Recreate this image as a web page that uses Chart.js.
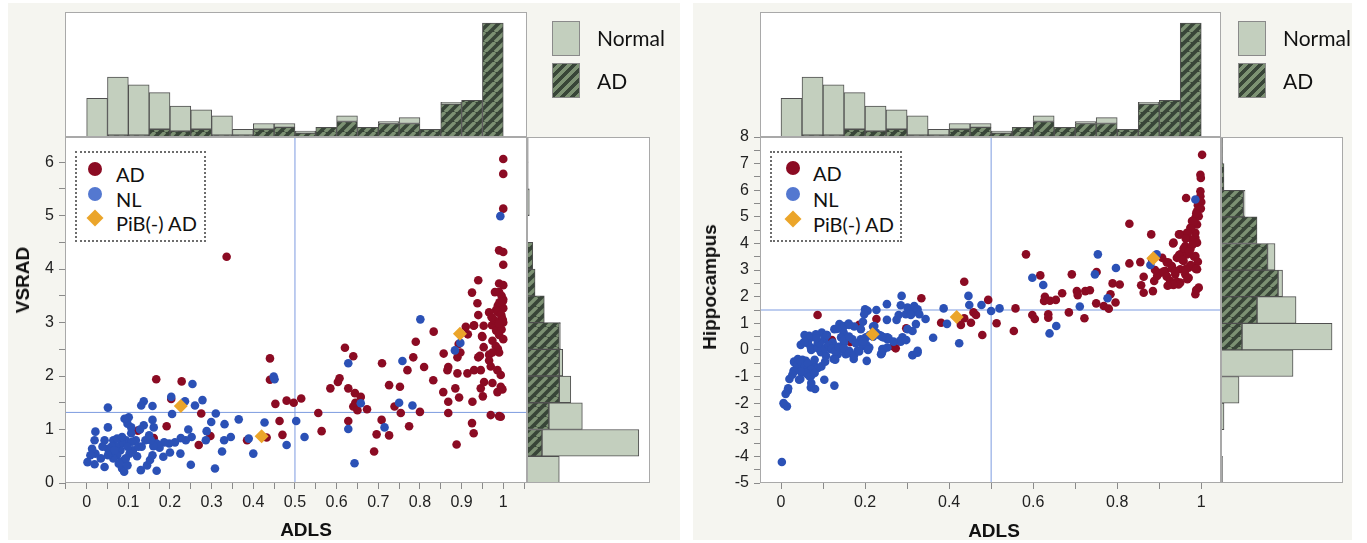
<!DOCTYPE html>
<html><head><meta charset="utf-8"><title>ADLS vs VSRAD and Hippocampus</title>
<script src="https://cdn.jsdelivr.net/npm/chart.js@4.4.1/dist/chart.umd.min.js"></script>
<style>
html,body{margin:0;padding:0;background:#fff}
#root{position:relative;width:1367px;height:543px;overflow:hidden;background:#fff;font-family:'Liberation Sans',Arial,sans-serif}
.bg{position:absolute;background:#f5f5f0}
canvas{position:absolute}
.ttl{position:absolute;font-weight:bold;font-size:19px;color:#111;white-space:nowrap;transform:translate(-50%,-50%)}
.ttl.rot{transform:translate(-50%,-50%) rotate(-90deg)}
.lgbox{position:absolute;box-sizing:border-box;border:2px dotted #6d6d6d;background:#fff}
.dot{position:absolute;width:14px;height:14px;border-radius:50%;transform:translate(-50%,-50%)}
.dia{position:absolute;width:12px;height:12px;background:#eba52a;transform:translate(-50%,-50%) rotate(45deg)}
.lt{position:absolute;font-family:Lato,'Open Sans',sans-serif;font-size:20px;color:#111;transform:translateY(-50%);white-space:nowrap}
.hb{position:absolute;box-sizing:border-box;width:28px;height:35px;border:1px solid #8a8a8a}
.hn{background:#c3cfbe}
.ha{background:repeating-linear-gradient(135deg,#384538 0 3.5px,#7c9173 3.5px 7px)}
.ht{position:absolute;font-family:Lato,'Open Sans',sans-serif;font-size:21px;color:#111;transform:translateY(-50%);white-space:nowrap}
</style></head>
<body><div id="root">
<div class="bg" style="left:8px;top:3px;width:672px;height:537px"></div>
<div class="bg" style="left:693px;top:3px;width:659px;height:537px"></div>

<canvas id="s1" width="520" height="418" style="left:8px;top:125px"></canvas>
<canvas id="t1" width="462" height="125" style="left:65px;top:12px"></canvas>
<canvas id="r1" width="123" height="346" style="left:527px;top:137px"></canvas>

<canvas id="s2" width="529" height="418" style="left:693px;top:125px"></canvas>
<canvas id="t2" width="461" height="125" style="left:760px;top:12px"></canvas>
<canvas id="r2" width="122" height="346" style="left:1221px;top:137px"></canvas>

<div class="ttl rot" style="left:23px;top:280px">VSRAD</div>
<div class="ttl" style="left:306px;top:530px">ADLS</div>
<div class="ttl rot" style="left:710px;top:287px">Hippocampus</div>
<div class="ttl" style="left:994px;top:531px">ADLS</div>

<div class="lgbox" style="left:75px;top:151px;width:131px;height:91px"></div>
<div class="dot" style="left:95px;top:169px;background:#8b0b23"></div>
<div class="dot" style="left:95px;top:194px;background:#5478d0"></div>
<div class="dia" style="left:95px;top:218px"></div>
<div class="lt" style="left:116px;top:174px">AD</div>
<div class="lt" style="left:116px;top:199px">NL</div>
<div class="lt" style="left:116px;top:223px">PiB(-) AD</div>

<div class="lgbox" style="left:770px;top:151px;width:132px;height:91px"></div>
<div class="dot" style="left:793px;top:168px;background:#8b0b23"></div>
<div class="dot" style="left:793px;top:194px;background:#5478d0"></div>
<div class="dia" style="left:793px;top:219px"></div>
<div class="lt" style="left:813px;top:173px">AD</div>
<div class="lt" style="left:813px;top:199px">NL</div>
<div class="lt" style="left:813px;top:224px">PiB(-) AD</div>

<div class="hb hn" style="left:552px;top:21px"></div>
<div class="hb ha" style="left:552px;top:63px"></div>
<div class="ht" style="left:597px;top:37px">Normal</div>
<div class="ht" style="left:597px;top:80px">AD</div>

<div class="hb hn" style="left:1238px;top:21px"></div>
<div class="hb ha" style="left:1238px;top:63px"></div>
<div class="ht" style="left:1283px;top:37px">Normal</div>
<div class="ht" style="left:1283px;top:80px">AD</div>
</div>
<script>
// ---------------- DATA ----------------
// Panel 1: ADLS vs VSRAD  ([ADLS, VSRAD])
const p1_AD = [
[1.0,6.06],[1.0,5.78],[1.0,5.13],[0.336,4.23],[0.99,4.35],[1.0,4.32],[1.0,4.08],[0.94,3.79],[0.925,3.56],[0.938,3.36],
[0.99,3.73],[1.0,3.7],[0.99,3.57],[0.996,3.5],[0.98,3.57],[1.0,3.43],[0.987,3.32],[1.0,3.27],[0.983,3.24],[0.966,3.19],
[0.94,3.14],[0.996,3.11],[0.987,3.0],[1.0,3.0],[0.973,2.95],[0.953,2.94],[0.93,2.95],[0.91,2.92],[0.983,2.85],[0.996,2.87],
[0.99,2.77],[0.833,2.83],[0.915,2.78],[0.95,2.73],[0.974,2.66],[1.0,2.69],[0.79,2.64],[0.893,2.6],[0.62,2.53],[0.64,2.37],
[0.953,2.54],[0.987,2.51],[0.857,2.42],[0.897,2.44],[0.94,2.35],[0.966,2.4],[0.784,2.35],[0.44,2.33],
[0.929,2.94],[0.949,2.75],[0.982,2.56],[0.99,2.44],[0.974,2.44],[0.89,2.35],[0.944,2.38],[0.991,3.38],[0.999,3.4],[0.986,3.2],
[0.995,3.15],[0.999,3.05],[0.978,3.05],[0.99,2.98],[0.972,3.1],
[0.81,2.17],[0.868,2.17],[0.866,2.11],[0.89,2.05],[0.914,2.05],[0.93,2.11],[0.946,2.11],[0.966,2.29],[0.97,2.18],[0.986,2.11],
[0.994,2.02],[0.832,1.92],[0.946,1.77],[0.954,1.89],[0.974,1.87],[0.994,1.8],[0.998,1.75],[0.986,1.7],[0.856,1.7],[0.868,1.52],
[0.885,1.77],[0.894,1.6],[0.926,1.52],[0.951,1.62],[0.8,1.33],[0.868,1.31],[0.99,1.25],[0.994,1.24],[0.925,1.12],[0.929,0.93],
[0.888,0.72],[0.97,1.27],
[0.709,2.24],[0.77,2.11],[0.603,1.89],[0.607,1.96],[0.585,1.77],[0.628,1.77],[0.644,1.68],[0.658,1.61],[0.726,1.83],[0.752,1.8],
[0.44,1.93],[0.167,1.94],[0.228,1.9],[0.203,1.57],[0.453,1.48],[0.48,1.54],[0.497,1.5],[0.515,1.58],[0.556,1.31],[0.64,1.43],
[0.645,1.5],[0.673,1.38],[0.65,1.36],[0.739,1.43],[0.754,1.31],[0.628,1.16],[0.708,1.18],[0.774,1.06],[0.696,0.91],[0.726,0.89],
[0.564,0.97],[0.463,1.16],[0.47,0.9],[0.432,0.85],[0.69,0.59],[0.297,0.88],[0.275,1.3],[0.269,0.71],[0.192,1.06],[0.123,0.98],
[0.09,0.79],[0.161,0.84],[0.385,0.8]
];
const p1_NL = [
[0.993,4.99],[0.801,3.06],[0.897,2.62],[0.884,2.48],[0.758,2.28],[0.628,2.24],[0.449,1.99],[0.451,1.94],[0.254,1.85],[0.203,1.61],
[0.236,1.53],[0.278,1.55],[0.26,1.45],[0.137,1.53],[0.131,1.45],[0.158,1.44],[0.051,1.41],[0.205,1.29],[0.31,1.3],[0.365,1.19],
[0.658,1.49],[0.75,1.5],[0.782,1.45],[0.503,1.16],[0.427,1.13],[0.628,1.01],[0.715,1.04],[0.523,0.86],[0.48,0.71],[0.4,0.55],
[0.389,0.83],[0.643,0.37],[0.308,0.27],[0.25,0.34],[0.325,0.59],[0.33,0.8],[0.346,0.86],[0.331,1.1],[0.299,1.14],[0.288,0.97],
[0.286,0.8],[0.252,0.86],[0.244,1.0],[0.238,0.8],[0.226,0.84],[0.225,0.55],[0.212,0.76],[0.198,0.74],[0.2,0.57],[0.186,0.76],
[0.175,0.66],[0.168,0.74],[0.184,0.49],[0.168,0.23],[0.13,0.24],[0.145,0.33],[0.152,0.43],[0.158,0.52],[0.16,0.69],[0.154,0.8],
[0.141,0.8],[0.132,0.68],[0.118,0.8],[0.111,0.61],[0.121,0.5],[0.158,1.18],[0.161,1.04],[0.15,0.89],[0.137,1.08],[0.128,1.0],
[0.107,0.93],[0.098,1.11],[0.101,1.23],[0.091,1.2],[0.107,1.04],[0.094,0.8],[0.085,0.74],[0.081,0.61],[0.073,0.52],[0.09,0.43],
[0.085,0.27],[0.09,0.21],[0.077,0.36],[0.064,0.46],[0.056,0.55],[0.051,0.64],[0.051,1.04],[0.043,0.8],[0.038,0.68],[0.043,0.3],
[0.034,0.46],[0.021,0.55],[0.021,0.96],[0.019,0.8],[0.013,0.64],[0.009,0.52],[0.002,0.39],[0.019,0.35],[0.064,0.8],[0.07,0.68],
[0.06,0.68],[0.073,0.83],[0.085,0.86],[0.109,0.77],[0.124,0.68],[0.098,0.68],[0.103,0.55],[0.067,0.61],[0.051,0.52],[0.081,0.39],
[0.098,0.33],[0.094,0.46]
];
const p1_PiB = [[0.226,1.44],[0.42,0.875],[0.896,2.79]];
const p1_cut = [0.5, 1.32];            // ADLS cut, VSRAD cut
const p1_xRange = [-0.052, 1.057];
const p1_yRange = [0, 6.47];
const p1_xTicks = [-0.05,0,0.05,0.1,0.15,0.2,0.25,0.3,0.35,0.4,0.45,0.5,0.55,0.6,0.65,0.7,0.75,0.8,0.85,0.9,0.95,1,1.05];
const p1_yTicks = [0,0.5,1,1.5,2,2.5,3,3.5,4,4.5,5,5.5,6];

// Panel 2: ADLS vs Hippocampus ([ADLS, Hippocampus])
const p2_AD = [
[1.002,7.33],[0.998,6.58],[0.999,6.46],[0.998,5.96],[0.964,5.71],[0.998,5.77],[0.994,5.52],[0.99,5.21],[0.986,4.96],[0.994,5.02],
[0.978,4.84],[0.99,4.71],[0.974,4.59],[0.986,4.4],[0.966,4.4],[0.986,4.21],[0.95,4.34],[0.978,4.15],[0.99,4.03],[0.962,3.9],
[0.974,3.78],[0.934,4.03],[0.95,3.59],[0.966,3.59],[0.986,3.53],[0.942,3.46],[0.958,3.34],[0.922,3.28],[0.93,3.15],[0.986,3.09],
[0.97,3.09],[0.95,3.03],[0.914,2.96],[0.938,2.84],[0.962,2.84],[0.918,2.78],[0.926,2.59],[0.942,2.53],[0.97,2.71],[0.95,2.53],
[0.934,2.52],[0.99,3.03],[0.994,2.34],[0.986,2.09],[0.903,2.9],[0.907,3.46],[0.881,4.34],[0.829,4.74],[0.883,3.4],[0.855,3.3],
[0.829,3.25],[0.863,2.75],[0.857,2.43],[0.888,2.59],[0.895,2.78],[0.885,2.21],[0.863,2.15],[0.789,2.5],[0.806,2.46],[0.751,2.93],
[0.784,2.09],[0.75,1.75],[0.768,1.65],[0.78,1.55],[0.796,1.78],[0.724,2.21],[0.735,2.24],
[1.0,5.56],[0.992,5.44],[0.999,5.31],[0.988,5.13],[0.981,4.81],[0.976,4.56],[0.968,4.38],[0.947,4.34],[0.963,4.19],[0.933,4.0],
[0.979,3.94],[0.958,3.81],[0.971,3.71],[0.947,3.56],[0.983,3.5],[0.955,3.38],[0.992,3.31],[0.918,3.29],[0.975,3.19],[0.93,3.06],
[0.963,3.04],[0.987,3.04],[0.89,3.0],[0.91,2.94],[0.938,2.96],[0.918,2.75],[0.967,2.66],[0.942,2.56],[0.926,2.46],[0.946,2.46],
[0.934,2.44],[0.92,2.41],[0.988,2.25],
[0.583,3.59],[0.617,2.8],[0.692,2.84],[0.669,2.13],[0.628,2.0],[0.626,1.84],[0.64,1.85],[0.654,1.88],[0.704,2.21],[0.706,2.06],
[0.558,1.56],[0.493,1.88],[0.436,2.56],[0.334,1.94],[0.227,1.16],[0.087,1.31],[0.186,0.94],[0.298,0.81],[0.381,1.02],[0.436,1.19],
[0.428,0.94],[0.452,1.02],[0.458,1.41],[0.464,1.31],[0.479,0.56],[0.513,1.0],[0.554,0.71],[0.598,1.31],[0.604,1.16],[0.636,1.34],
[0.636,1.21],[0.685,1.41],[0.722,1.19],[0.121,0.37],[0.165,0.3],[0.268,0.13],[0.273,0.06]
];
const p2_NL = [
[0.030,-0.78],[0.038,-0.66],[0.046,-0.47],[0.051,-0.37],[0.032,-0.47],[0.040,-0.34],[0.048,-0.72],[0.055,-0.84],[0.063,-0.91],[0.071,-0.99],
[0.046,-1.09],[0.063,-0.59],[0.071,-0.72],[0.079,-0.59],[0.059,-0.41],[0.054,0.28],[0.067,0.53],[0.083,0.59],[0.097,0.65],[0.071,0.09],
[0.087,0.22],[0.103,0.40],[0.111,0.15],[0.119,0.03],[0.095,-0.09],[0.107,-0.22],[0.135,-0.16],[0.143,0.03],[0.154,-0.16],[0.162,-0.03],
[0.127,0.78],[0.139,0.97],[0.15,0.90],[0.161,0.99],[0.149,0.65],[0.143,0.47],[0.123,0.28],[0.15,0.28],[0.170,0.40],[0.182,-0.03],
[0.194,0.15],[0.19,0.78],[0.19,0.40],[0.202,0.47],[0.210,0.09],[0.222,0.90],[0.226,0.65],[0.238,0.53],[0.253,0.40],[0.241,0.03],
[0.253,0.09],[0.238,-0.16],[0.285,1.68],[0.301,1.59],[0.313,1.40],[0.297,1.34],[0.317,1.65],[0.325,1.53],[0.321,0.97],[0.301,0.78],
[0.289,0.47],[0.283,0.34],[0.253,0.47],[0.244,0.03],[0.325,-0.03],[0.313,-0.20],
[0.002,-4.21],[0.006,-2.0],[0.014,-2.12],[0.016,-1.53],[0.017,-1.44],[0.02,-1.09],[0.071,-1.41],[0.081,-1.47],[0.103,-1.12],[0.127,-1.34],
[0.125,-0.34],[0.173,-0.34],[0.204,-0.41],[0.2,1.53],[0.206,1.47],[0.198,1.34],[0.252,1.72],[0.252,1.13],[0.275,1.13],[0.287,2.03],
[0.056,0.56],[0.068,0.44],[0.084,0.5],[0.109,0.56],[0.047,0.19],[0.064,0.25],[0.072,0.0],[0.088,0.06],[0.092,0.25],[0.105,0.06],
[0.113,0.19],[0.121,0.06],[0.129,-0.06],[0.137,0.12],[0.15,0.06],[0.162,-0.12],[0.174,-0.19],[0.186,-0.06],[0.203,0.19],[0.207,0.0],
[0.219,0.5],[0.234,0.56],[0.244,0.47],[0.256,0.44],[0.285,0.31],[0.298,0.37],[0.24,-0.12],[0.313,-0.19],[0.325,-0.1],[0.031,-0.44],
[0.039,-0.56],[0.047,-0.44],[0.056,-0.62],[0.064,-0.5],[0.08,-0.37],[0.088,-0.68],[0.072,-0.75],[0.06,-0.87],[0.047,-0.81],[0.031,-0.81],
[0.027,-0.93],[0.043,-1.12],[0.068,-1.0],[0.08,-0.87],[0.096,-0.62],[0.105,-0.44],[0.129,-0.37],[0.072,-1.24],[0.008,-2.05],[0.011,-1.65],
[0.15,0.37],[0.162,0.5],[0.178,0.25],[0.195,0.31],
[0.986,5.65],[0.754,3.59],[0.894,3.59],[0.879,3.19],[0.797,3.08],[0.747,2.84],[0.598,2.71],[0.624,2.44],[0.777,1.94],[0.711,1.63],
[0.655,0.9],[0.639,0.62],[0.52,1.56],[0.5,1.46],[0.477,1.69],[0.446,2.03],[0.448,1.69],[0.387,1.56],[0.395,0.98],[0.362,0.46],
[0.424,0.25],[0.344,1.16],[0.329,1.34],
[0.227,1.5],[0.309,1.31],[0.28,1.31],[0.195,1.06],[0.174,0.88],[0.162,0.94],[0.146,0.79],[0.133,0.79],[0.109,0.56],[0.084,0.44],
[0.056,0.31],[0.211,0.56],[0.24,0.5],[0.268,0.31],[0.219,0.88],[0.313,0.71]
];
const p2_PiB = [[0.418,1.24],[0.218,0.59],[0.886,3.44]];
const p2_cut = [0.5, 1.5];
const p2_xRange = [-0.05, 1.047];
const p2_yRange = [-5, 8];
const p2_xTicks = [0,0.1,0.2,0.3,0.4,0.5,0.6,0.7,0.8,0.9,1];
const p2_yTicks = [-5,-4.5,-4,-3.5,-3,-2.5,-2,-1.5,-1,-0.5,0,0.5,1,1.5,2,2.5,3,3.5,4,4.5,5,5.5,6,6.5,7,7.5,8];

// Top histogram of ADLS (same for both panels): bin centres and counts
const topBins   = [0.025,0.075,0.125,0.175,0.225,0.275,0.325,0.375,0.425,0.475,0.525,0.575,0.625,0.675,0.725,0.775,0.825,0.875,0.925,0.975];
const topAD     = [0,1,1,4,3,4,1,1,4,5,2,5,8,5,7,7,4,17,19,59];
const topNormal = [20,30,26,19,13,10,10,3,3,2,1,0,3,0,1,3,0,1,0,0];
const topMax = 64.7;

// Right histogram panel 1 (VSRAD bins of 0.5)
const r1Bins   = [0.25,0.75,1.25,1.75,2.25,2.75,3.25,3.75,4.25,4.75,5.25,5.75,6.25];
const r1AD     = [0,13,19,28,28,28,15,7,5,0,1,1,1];
const r1Normal = [28,84,29,10,3,1,0,0,0,0,1,0,0];
const r1Max = 106.7;

// Right histogram panel 2 (Hippocampus bins of 1)
const r2Bins   = [-4.5,-3.5,-2.5,-1.5,-0.5,0.5,1.5,2.5,3.5,4.5,5.5,6.5,7.5];
const r2AD     = [0,0,0,0,0,14,24,38,31,24,15,2,1];
const r2Normal = [1,0,2,12,48,60,26,3,5,0,1,0,0];
const r2Max = 81.3;

// ---------------- DRAWING ----------------
const RED='#8b0b23', BLUE='#2b51b6', ORANGE='#eba52a', REF='#7d9be0', NORMAL='#c3cfbe', EDGE='#4f4f4f';
const TICKFONT = {family:"'Liberation Sans', Arial, sans-serif", size:16};

const boxPlugin = {
  id:'box',
  beforeDraw(c){ const {ctx,chartArea:a}=c; ctx.save(); ctx.fillStyle='#fff'; ctx.fillRect(a.left,a.top,a.width,a.height); ctx.restore(); },
  afterDraw(c){ const {ctx,chartArea:a}=c; ctx.save(); ctx.strokeStyle='#a9a9a9'; ctx.lineWidth=1;
    ctx.strokeRect(Math.round(a.left)+0.5, Math.round(a.top)+0.5, Math.round(a.width)-1, Math.round(a.height)-1); ctx.restore(); }
};

function hatch(ctx){
  const c=document.createElement('canvas'); c.width=c.height=10;
  const g=c.getContext('2d'); g.fillStyle='#384538'; g.fillRect(0,0,10,10);
  g.strokeStyle='#7c9173'; g.lineWidth=3.4; g.beginPath();
  for (const o of [-10,0,10]) { g.moveTo(o,10); g.lineTo(o+10,0); }
  g.stroke();
  return ctx.createPattern(c,'repeat');
}
const pts = a => a.map(p => ({x:p[0], y:p[1]}));

function scatter(id, ad, nl, pib, cut, xr, yr, xt, yt, xLab, yAxisW){
  new Chart(document.getElementById(id), {
    type:'scatter',
    data:{datasets:[
      {label:'PiB(-) AD', data:pts(pib), pointStyle:'rectRot', pointRadius:7, backgroundColor:ORANGE, borderColor:ORANGE, borderWidth:0, pointBorderWidth:0},
      {label:'NL', data:pts(nl), pointRadius:4.3, backgroundColor:BLUE, borderColor:BLUE, borderWidth:0, pointBorderWidth:0},
      {label:'AD', data:pts(ad), pointRadius:4.3, backgroundColor:RED, borderColor:RED, borderWidth:0, pointBorderWidth:0},
      {type:'line', label:'ADLS cut', data:[{x:cut[0],y:yr[0]},{x:cut[0],y:yr[1]}], borderColor:REF, borderWidth:1, pointRadius:0},
      {type:'line', label:'score cut', data:[{x:xr[0],y:cut[1]},{x:xr[1],y:cut[1]}], borderColor:REF, borderWidth:1, pointRadius:0}
    ]},
    options:{
      responsive:false, animation:false, events:[],
      layout:{autoPadding:false, padding:{top:12,right:1,left:0,bottom:0}},
      plugins:{legend:{display:false}, tooltip:{enabled:false}},
      scales:{
        x:{type:'linear', min:xr[0], max:xr[1],
           afterBuildTicks:s=>{ s.ticks = xt.map(v=>({value:v})); },
           afterFit:s=>{ s.height=60; s.paddingLeft=0; s.paddingRight=0; },
           grid:{drawOnChartArea:false, tickLength:6, color:'#8a8a8a'}, border:{display:false},
           ticks:{autoSkip:false, maxRotation:0, minRotation:0, padding:4, color:'#222', font:TICKFONT, callback:xLab}},
        y:{type:'linear', min:yr[0], max:yr[1],
           afterBuildTicks:s=>{ s.ticks = yt.map(v=>({value:v})); },
           afterFit:s=>{ s.width=yAxisW; s.paddingTop=0; s.paddingBottom=0; },
           grid:{drawOnChartArea:false, tickLength:6, color:'#8a8a8a'}, border:{display:false},
           ticks:{autoSkip:false, padding:5, color:'#222', font:TICKFONT, callback:v=>Number.isInteger(v)?String(v):''}}
      }
    },
    plugins:[boxPlugin]
  });
}

function hist(id, horizontal, bins, ad, normal, idxRange, valMax){
  const cv=document.getElementById(id); const ctx=cv.getContext('2d');
  const mk = vals => bins.map((b,i)=> horizontal ? {x:vals[i], y:b} : {x:b, y:vals[i]});
  const common = {borderColor:EDGE, borderWidth:1, borderSkipped:false, barThickness:'flex', categoryPercentage:1, barPercentage:1};
  const idxAxis = {type:'linear', min:idxRange[0], max:idxRange[1], stacked:true, display:false, offset:false, grid:{offset:false}};
  const valAxis = {type:'linear', min:0, max:valMax, stacked:true, display:false};
  new Chart(cv, {
    type:'bar',
    data:{datasets:[
      Object.assign({label:'AD', data:mk(ad), backgroundColor:hatch(ctx)}, common),
      Object.assign({label:'Normal', data:mk(normal), backgroundColor:NORMAL}, common)
    ]},
    options:{
      indexAxis: horizontal ? 'y' : 'x',
      responsive:false, animation:false, events:[],
      layout:{autoPadding:false, padding:0},
      plugins:{legend:{display:false}, tooltip:{enabled:false}},
      scales: horizontal ? {y:idxAxis, x:valAxis} : {x:idxAxis, y:valAxis}
    },
    plugins:[boxPlugin]
  });
}

const lab1 = v => (v > -1e-9 && v < 1+1e-9 && Math.abs(v*10-Math.round(v*10))<1e-6) ? (Math.round(v*10)===0?'0':Math.round(v*10)===10?'1':(Math.round(v*10)/10).toFixed(1)) : '';
const lab2 = v => (Math.abs(v*5-Math.round(v*5))<1e-6) ? (Math.round(v*10)===0?'0':Math.round(v*10)===10?'1':(Math.round(v*10)/10).toFixed(1)) : '';

scatter('s1', p1_AD, p1_NL, p1_PiB, p1_cut, p1_xRange, p1_yRange, p1_xTicks, p1_yTicks, lab1, 57);
hist('t1', false, topBins, topAD, topNormal, p1_xRange, topMax);
hist('r1', true, r1Bins, r1AD, r1Normal, p1_yRange, r1Max);

scatter('s2', p2_AD, p2_NL, p2_PiB, p2_cut, p2_xRange, p2_yRange, p2_xTicks, p2_yTicks, lab2, 67);
hist('t2', false, topBins, topAD, topNormal, p2_xRange, topMax);
hist('r2', true, r2Bins, r2AD, r2Normal, p2_yRange, r2Max);
</script>
</body></html>
